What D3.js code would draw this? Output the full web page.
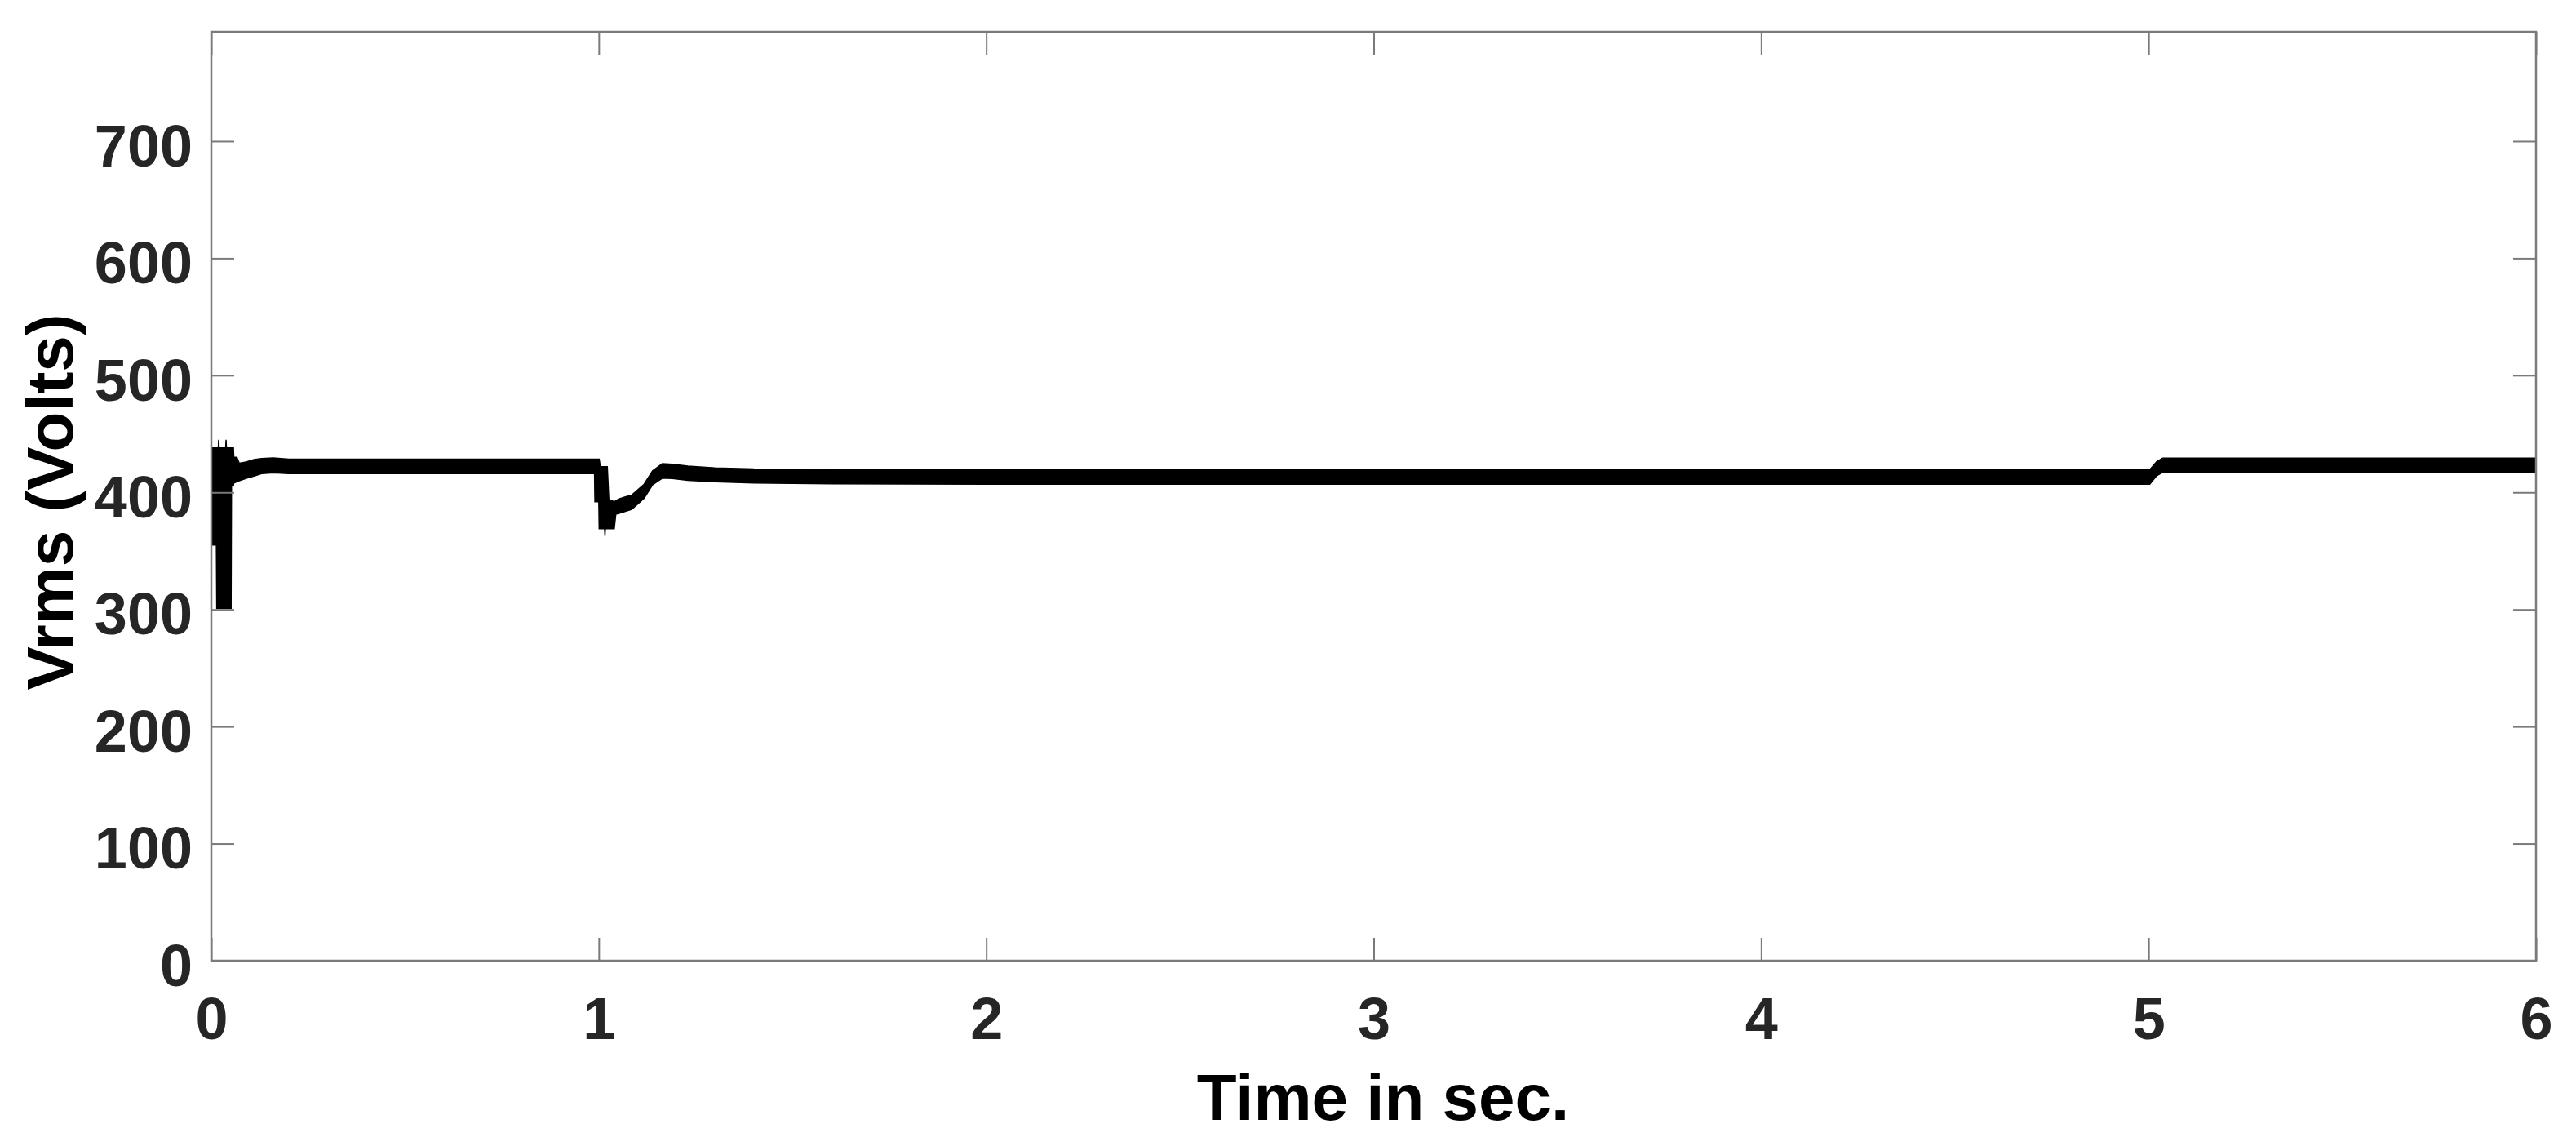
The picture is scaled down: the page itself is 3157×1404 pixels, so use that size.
<!DOCTYPE html>
<html>
<head>
<meta charset="utf-8">
<script src="https://cdn.jsdelivr.net/npm/d3@7"></script>
<style>
  body { margin: 0; background: #fff; }
  svg { display: block; }
  text { font-family: "Liberation Sans", Arial, sans-serif; font-weight: bold; }
</style>
</head>
<body>
<svg id="chart" width="3157" height="1404"></svg>
<script>
// envelope of the Vrms trace (the ripple makes it a thick band)
const timeSec = [0.000, 0.013, 0.014, 0.018, 0.019, 0.020, 0.037, 0.038, 0.039, 0.051, 0.052, 0.057, 0.058, 0.066, 0.072, 0.090, 0.110, 0.130, 0.160, 0.200,
  0.989, 0.990, 1.000, 1.001, 1.004, 1.015, 1.016, 1.017, 1.022, 1.026, 1.040, 1.044, 1.052, 1.085, 1.117, 1.139, 1.164, 1.190, 1.230, 1.300, 1.400, 1.600, 2.000,
  3.000, 4.000, 5.003, 5.020, 5.036, 5.500, 6.000];
const vUpper = [438, 438, 438, 438, 445, 438, 438, 445, 438, 438, 438, 438, 430, 430, 425, 426, 428, 429, 429.5, 428.5,
  428.5, 428.5, 428.5, 428.5, 422, 422, 422, 422, 422, 394, 392, 393, 394.5, 397.7, 407, 418.5, 424.5, 424, 422.5, 421, 420, 419.5, 419.3,
  419.3, 419.3, 419.3, 426, 429.3, 429.3, 429.3];
const vLower = [355, 355, 301, 301, 301, 301, 301, 301, 301, 301, 406, 406, 408, 409, 410, 412, 414, 416, 416.8, 416,
  416, 392, 392, 369, 369, 369, 363, 369, 369, 369, 369, 381.4, 382, 385.5, 395, 406.5, 412.2, 411.8, 410.3, 409, 408, 407.3, 407,
  407, 407, 407, 414, 417, 417, 417];

const xTicks = [0, 1, 2, 3, 4, 5, 6];
const yTicks = [0, 100, 200, 300, 400, 500, 600, 700];

const svg = d3.select('#chart');
const plotLeft = 259, plotRight = 3108, plotTop = 39, plotBottom = 1177;
const axisColor = '#7a7a7a';
const tickLen = 28;

svg.append('rect')
    .attr('width', 3157)
    .attr('height', 1404)
    .attr('fill', '#fff');

let x = d3.scaleLinear().domain([0, 6]).range([plotLeft, plotRight]);
let y = d3.scaleLinear().domain([0, 793.4]).range([plotBottom, plotTop]);

let band = timeSec.map((t, i) => ({t: t, hi: vUpper[i], lo: vLower[i]}));

let plot = svg.append('g');

plot.append('clipPath')
    .attr('id', 'clip')
    .append('rect')
    .attr('x', plotLeft)
    .attr('y', plotTop)
    .attr('width', plotRight - plotLeft)
    .attr('height', plotBottom - plotTop);

plot.append('path')
    .datum(band)
    .attr('clip-path', 'url(#clip)')
    .attr('fill', '#000')
    .attr('stroke', '#000')
    .attr('stroke-width', 1.5)
    .attr('d', d3.area()
        .x(d => x(d.t))
        .y0(d => y(d.lo))
        .y1(d => y(d.hi)));

// bottom / left axes with inward ticks
let xAxis = svg.append('g')
    .attr('transform', `translate(0,${plotBottom})`)
    .call(d3.axisBottom(x).tickValues(xTicks).tickSize(-tickLen).tickPadding(0).tickFormat(d3.format('d')));
let yAxis = svg.append('g')
    .attr('transform', `translate(${plotLeft},0)`)
    .call(d3.axisLeft(y).tickValues(yTicks).tickSize(-tickLen).tickPadding(0).tickFormat(d3.format('d')));

// top / right mirror ticks, no labels
let xTop = svg.append('g')
    .attr('transform', `translate(0,${plotTop})`)
    .call(d3.axisTop(x).tickValues(xTicks).tickSize(-tickLen).tickFormat(''));
let yRight = svg.append('g')
    .attr('transform', `translate(${plotRight},0)`)
    .call(d3.axisRight(y).tickValues(yTicks).tickSize(-tickLen).tickFormat(''));

[xAxis, yAxis, xTop, yRight].forEach(g => {
    g.select('.domain').remove();
    g.selectAll('line')
        .attr('stroke', axisColor)
        .attr('stroke-width', 2);
});

xAxis.selectAll('text')
    .attr('y', 96)
    .attr('dy', null)
    .attr('fill', '#262626')
    .style('font-size', '72px');

yAxis.selectAll('text')
    .attr('x', -23)
    .attr('dy', '0.42em')
    .attr('fill', '#262626')
    .style('font-size', '72px');

// frame
svg.append('rect')
    .attr('x', plotLeft)
    .attr('y', plotTop)
    .attr('width', plotRight - plotLeft)
    .attr('height', plotBottom - plotTop)
    .attr('fill', 'none')
    .attr('stroke', axisColor)
    .attr('stroke-width', 2.5);

svg.append('text')
    .attr('x', 1695)
    .attr('y', 1372)
    .attr('text-anchor', 'middle')
    .attr('fill', '#000')
    .style('font-size', '80px')
    .text('Time in sec.');

svg.append('text')
    .attr('transform', 'translate(89,615) rotate(-90)')
    .attr('text-anchor', 'middle')
    .attr('fill', '#000')
    .style('font-size', '80px')
    .text('Vrms (Volts)');
</script>
</body>
</html>
